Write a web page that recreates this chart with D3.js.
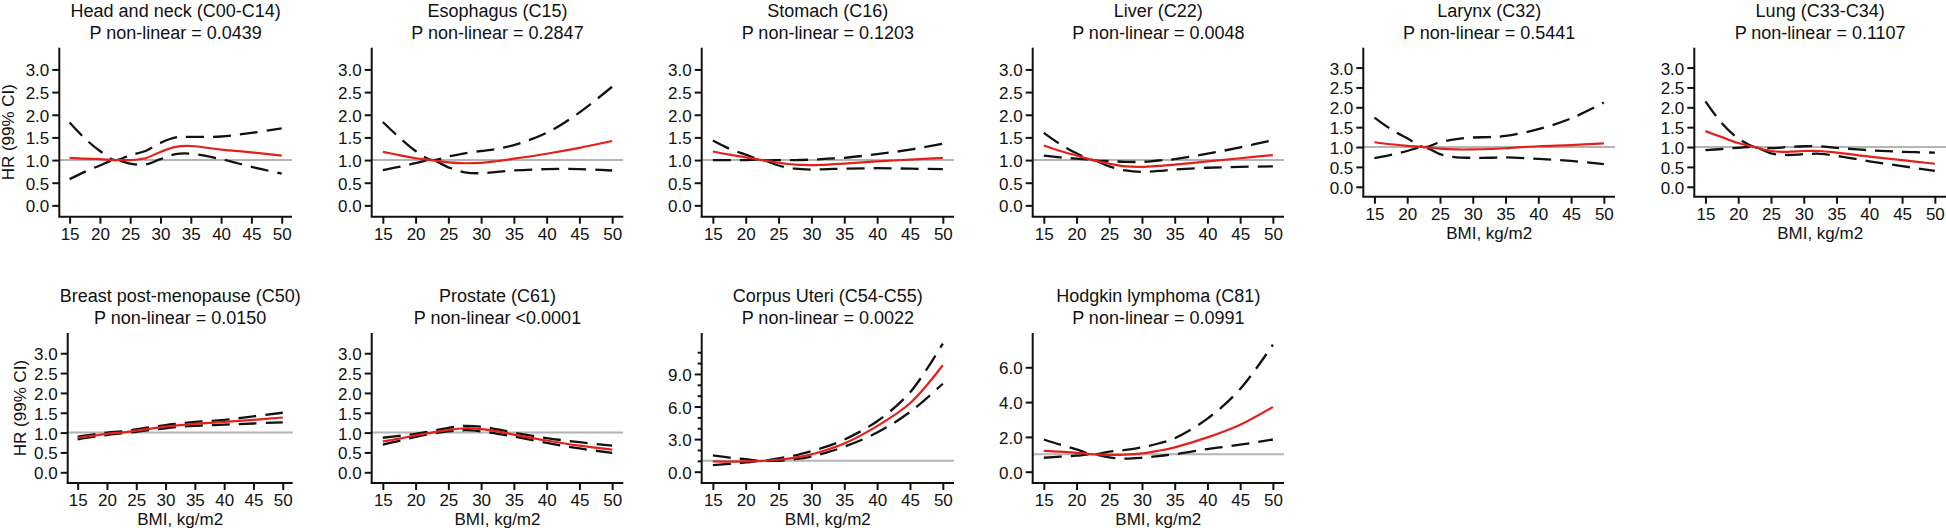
<!DOCTYPE html>
<html><head><meta charset="utf-8">
<script src="https://cdn.jsdelivr.net/npm/d3@7"></script>
<style>
html,body{margin:0;padding:0;background:#fff;overflow:hidden;}
svg text{font-family:"Liberation Sans",Arial,Helvetica,sans-serif;fill:#111;}
</style></head><body>
<svg id="chart" width="1946" height="528"></svg>
<script>
// ---------- DATA ----------
const bmi = [15, 17.5, 20, 22.5, 25, 27.5, 30, 32.5, 35, 40, 45, 50];
const xTickValues = [15, 20, 25, 30, 35, 40, 45, 50];
const sites = ["Head and neck (C00-C14)", "Esophagus (C15)", "Stomach (C16)", "Liver (C22)", "Larynx (C32)",
  "Lung (C33-C34)", "Breast post-menopause (C50)", "Prostate (C61)", "Corpus Uteri (C54-C55)", "Hodgkin lymphoma (C81)"];
const pLabels = ["P non-linear = 0.0439", "P non-linear = 0.2847", "P non-linear = 0.1203", "P non-linear = 0.0048",
  "P non-linear = 0.5441", "P non-linear = 0.1107", "P non-linear = 0.0150", "P non-linear <0.0001",
  "P non-linear = 0.0022", "P non-linear = 0.0991"];
const yTicksSmall = [0, 0.5, 1, 1.5, 2, 2.5, 3];
const yTicksUteri = [0, 3, 6, 9];
const yMinorUteri = [1, 2, 4, 5, 7, 8, 10, 11];
const yTicksHodgkin = [0, 2, 4, 6];

const hrHeadNeck = [1.05, 1.03, 1.02, 1.00, 1.00, 1.04, 1.18, 1.29, 1.31, 1.23, 1.17, 1.10];
const hiHeadNeck = [1.83, 1.48, 1.20, 1.00, 1.11, 1.20, 1.38, 1.50, 1.51, 1.52, 1.60, 1.70];
const loHeadNeck = [0.58, 0.74, 0.88, 1.00, 0.92, 0.90, 1.02, 1.13, 1.14, 1.02, 0.85, 0.70];

const hrEsophagus = [1.18, 1.11, 1.04, 1.00, 0.95, 0.93, 0.94, 0.98, 1.03, 1.14, 1.27, 1.42];
const hiEsophagus = [1.84, 1.50, 1.20, 1.00, 1.08, 1.15, 1.20, 1.25, 1.33, 1.60, 2.05, 2.62];
const loEsophagus = [0.78, 0.85, 0.93, 1.00, 0.84, 0.73, 0.71, 0.74, 0.77, 0.80, 0.80, 0.77];

const hrStomach = [1.19, 1.12, 1.06, 1.00, 0.94, 0.90, 0.89, 0.90, 0.92, 0.97, 1.01, 1.05];
const hiStomach = [1.43, 1.25, 1.12, 1.00, 1.00, 1.00, 1.01, 1.03, 1.05, 1.13, 1.23, 1.36];
const loStomach = [1.00, 1.00, 1.00, 1.00, 0.88, 0.81, 0.79, 0.80, 0.81, 0.82, 0.81, 0.80];

const hrLiver = [1.32, 1.20, 1.10, 1.00, 0.92, 0.86, 0.85, 0.87, 0.90, 0.97, 1.04, 1.11];
const hiLiver = [1.60, 1.35, 1.15, 1.00, 0.98, 0.96, 0.96, 0.99, 1.02, 1.14, 1.28, 1.44];
const loLiver = [1.10, 1.06, 1.03, 1.00, 0.86, 0.77, 0.74, 0.76, 0.79, 0.83, 0.85, 0.86];

const hrLarynx = [1.12, 1.07, 1.03, 1.00, 0.96, 0.94, 0.94, 0.95, 0.97, 1.02, 1.05, 1.09];
const hiLarynx = [1.74, 1.45, 1.22, 1.00, 1.12, 1.20, 1.24, 1.25, 1.28, 1.45, 1.72, 2.12];
const loLarynx = [0.72, 0.80, 0.90, 1.00, 0.82, 0.74, 0.73, 0.73, 0.74, 0.70, 0.65, 0.57];

const hrLung = [1.40, 1.25, 1.10, 1.00, 0.90, 0.88, 0.90, 0.90, 0.86, 0.76, 0.67, 0.58];
const hiLung = [2.15, 1.60, 1.22, 1.00, 0.97, 1.00, 1.02, 1.02, 0.98, 0.92, 0.88, 0.86];
const loLung = [0.92, 0.95, 0.98, 1.00, 0.84, 0.80, 0.82, 0.83, 0.78, 0.64, 0.52, 0.40];

const hrBreast = [0.87, 0.92, 0.97, 1.00, 1.05, 1.10, 1.15, 1.19, 1.22, 1.27, 1.32, 1.38];
const hiBreast = [0.90, 0.95, 1.00, 1.03, 1.08, 1.14, 1.19, 1.23, 1.27, 1.32, 1.41, 1.50];
const loBreast = [0.83, 0.89, 0.94, 0.98, 1.02, 1.07, 1.11, 1.15, 1.17, 1.20, 1.23, 1.26];

const hrProstate = [0.78, 0.85, 0.93, 1.00, 1.07, 1.11, 1.09, 1.03, 0.95, 0.80, 0.67, 0.57];
const hiProstate = [0.87, 0.92, 0.97, 1.04, 1.12, 1.17, 1.15, 1.08, 1.00, 0.86, 0.76, 0.67];
const loProstate = [0.70, 0.79, 0.89, 0.97, 1.03, 1.06, 1.03, 0.97, 0.90, 0.74, 0.60, 0.49];

const hrUteri = [0.95, 0.93, 0.95, 1.00, 1.10, 1.30, 1.60, 2.05, 2.60, 4.20, 6.30, 9.80];
const hiUteri = [1.50, 1.30, 1.15, 1.00, 1.22, 1.50, 1.90, 2.35, 2.95, 4.65, 7.30, 11.80];
const loUteri = [0.60, 0.72, 0.85, 1.00, 1.00, 1.15, 1.40, 1.80, 2.30, 3.60, 5.50, 8.10];

const hrHodgkin = [1.20, 1.15, 1.08, 1.00, 0.97, 0.98, 1.05, 1.20, 1.40, 1.97, 2.70, 3.72];
const hiHodgkin = [1.85, 1.55, 1.28, 1.00, 1.15, 1.25, 1.40, 1.62, 1.92, 3.05, 4.75, 7.30];
const loHodgkin = [0.80, 0.86, 0.92, 1.00, 0.82, 0.75, 0.80, 0.90, 1.00, 1.30, 1.55, 1.85];

const hrSeries = [hrHeadNeck, hrEsophagus, hrStomach, hrLiver, hrLarynx, hrLung, hrBreast, hrProstate, hrUteri, hrHodgkin];
const hiSeries = [hiHeadNeck, hiEsophagus, hiStomach, hiLiver, hiLarynx, hiLung, hiBreast, hiProstate, hiUteri, hiHodgkin];
const loSeries = [loHeadNeck, loEsophagus, loStomach, loLiver, loLarynx, loLung, loBreast, loProstate, loUteri, loHodgkin];

// ---------- LAYOUT ----------
const layout = [
  {l: 59.3,   r: 292,    t: 47.7, b: 216.7, yd: [-0.25, 3.48], yt: yTicksSmall, ylab: true,  xlab: false},
  {l: 371.7,  r: 623.3,  t: 47.7, b: 216.7, yd: [-0.25, 3.48], yt: yTicksSmall, ylab: false, xlab: false},
  {l: 701.7,  r: 954,    t: 47.7, b: 216.7, yd: [-0.25, 3.48], yt: yTicksSmall, ylab: false, xlab: false},
  {l: 1032.7, r: 1284,   t: 47.7, b: 216.7, yd: [-0.25, 3.48], yt: yTicksSmall, ylab: false, xlab: false},
  {l: 1363.3, r: 1615,   t: 47.7, b: 196.7, yd: [-0.25, 3.5],  yt: yTicksSmall, ylab: false, xlab: true},
  {l: 1694.3, r: 1946,   t: 47.7, b: 196.7, yd: [-0.25, 3.5],  yt: yTicksSmall, ylab: false, xlab: true},
  {l: 67.7,   r: 292.7,  t: 333,  b: 483,   yd: [-0.27, 3.51], yt: yTicksSmall, ylab: true,  xlab: true},
  {l: 371.7,  r: 623.3,  t: 333,  b: 483,   yd: [-0.27, 3.51], yt: yTicksSmall, ylab: false, xlab: true},
  {l: 701.7,  r: 954,    t: 333,  b: 483,   yd: [-1.04, 12.77], yt: yTicksUteri, minor: yMinorUteri, ylab: false, xlab: true},
  {l: 1032.7, r: 1284,   t: 333,  b: 483,   yd: [-0.65, 7.97], yt: yTicksHodgkin, ylab: false, xlab: true}
];

const RED = "#e3211b";
const GREY = "#b4b4b4";
const TICK_FONT = "17px";
const svg = d3.select("#chart");

layout.forEach((L, i) => {
  const x = d3.scaleLinear().domain([13.3, 51.7]).range([L.l, L.r]);
  const y = d3.scaleLinear().domain(L.yd).range([L.b, L.t]);
  const g = svg.append("g");

  // reference line HR = 1
  g.append("line")
    .attr("x1", L.l).attr("x2", L.r)
    .attr("y1", y(1)).attr("y2", y(1))
    .attr("stroke", GREY).attr("stroke-width", 2);

  const pts = (arr) => bmi.map((b, k) => [b, arr[k]]);
  const line = d3.line().x(d => x(d[0])).y(d => y(d[1])).curve(d3.curveCatmullRom.alpha(0.5));

  [hiSeries[i], loSeries[i]].forEach(s => {
    g.append("path").attr("d", line(pts(s)))
      .attr("fill", "none").attr("stroke", "#111").attr("stroke-width", 2.3)
      .attr("stroke-dasharray", "18,9");
  });
  g.append("path").attr("d", line(pts(hrSeries[i])))
    .attr("fill", "none").attr("stroke", RED).attr("stroke-width", 2.2);

  // axes
  const xAxis = d3.axisBottom(x).tickValues(xTickValues).tickSize(7).tickSizeOuter(0).tickPadding(4)
    .tickFormat(d3.format("d"));
  const gx = g.append("g").attr("transform", `translate(0,${L.b})`).call(xAxis);
  const yAxis = d3.axisLeft(y).tickValues(L.yt).tickSize(7).tickSizeOuter(0).tickPadding(3)
    .tickFormat(d3.format(".1f"));
  const gy = g.append("g").attr("transform", `translate(${L.l},0)`).call(yAxis);

  [gx, gy].forEach(a => {
    a.select(".domain").attr("stroke", "#111").attr("stroke-width", 2);
    a.selectAll(".tick line").attr("stroke", "#111").attr("stroke-width", 2);
    a.selectAll(".tick text").style("font-size", TICK_FONT).attr("fill", "#111");
  });
  gy.selectAll(".tick text").attr("dy", "0.38em");
  gy.select(".domain").attr("d", `M0,${L.b}V${L.t}`);
  gx.select(".domain").attr("d", `M${L.l - 1},0H${L.r}`);

  if (L.minor) {
    const minorAxis = d3.axisLeft(y).tickValues(L.minor).tickSize(4).tickFormat("");
    const gm = g.append("g").attr("transform", `translate(${L.l},0)`).call(minorAxis);
    gm.select(".domain").remove();
    gm.selectAll(".tick line").attr("stroke", "#111").attr("stroke-width", 2);
  }

  // titles
  const cx = (L.l + L.r) / 2;
  g.append("text").attr("x", cx).attr("y", L.t - 31.2).attr("text-anchor", "middle")
    .style("font-size", "18px").text(sites[i]);
  g.append("text").attr("x", cx).attr("y", L.t - 8.9).attr("text-anchor", "middle")
    .style("font-size", "18px").text(pLabels[i]);

  if (L.xlab) {
    g.append("text").attr("x", cx).attr("y", L.b + 42.3).attr("text-anchor", "middle")
      .style("font-size", "17px").text("BMI, kg/m2");
  }
  if (L.ylab) {
    const cy = (L.t + L.b) / 2;
    const lx = L.l - (i === 0 ? 45 : 42);
    g.append("text").attr("transform", `translate(${lx},${cy}) rotate(-90)`)
      .attr("text-anchor", "middle").style("font-size", "17px").text("HR (99% CI)");
  }
});
</script>
</body></html>
